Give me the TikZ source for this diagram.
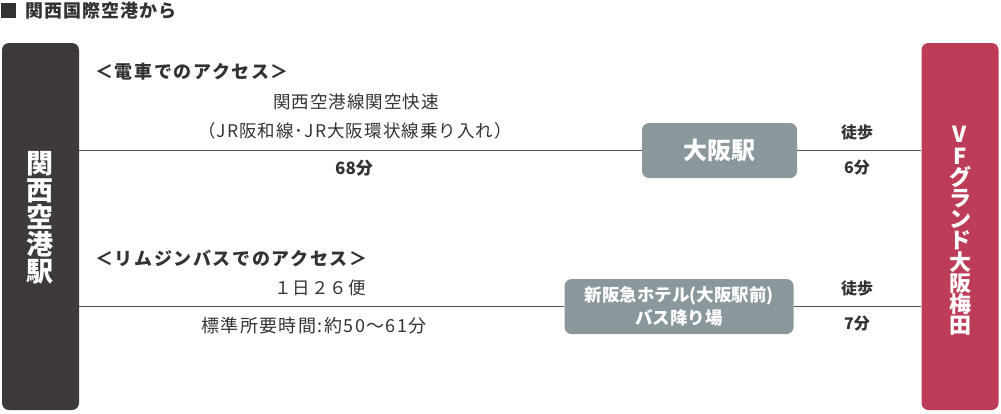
\documentclass[tikz,border=0pt]{standalone}
\usepackage{fontspec}
\setmainfont{Noto Sans CJK JP}
\usetikzlibrary{positioning}
\definecolor{textgray}{HTML}{333333}
\definecolor{stationdark}{HTML}{3E3A39}
\definecolor{hotelred}{HTML}{BD3C57}
\definecolor{stopgray}{HTML}{8A979C}

\begin{document}
\begin{tikzpicture}[
    x=1pt, y=-1pt,
    endbox/.style={
        rectangle, rounded corners=7pt, inner sep=0pt,
        minimum width=77pt, minimum height=367pt
    },
    vlabel/.style={
        text=white, align=center, inner sep=0pt
    },
    stopbox/.style={
        rectangle, rounded corners=7pt, fill=stopgray, text=white,
        inner sep=0pt, align=center
    },
    route/.style={draw=textgray!85, line width=1.5pt},
    heading/.style={
        anchor=west, inner sep=0pt, text=textgray,
        font=\fontsize{18}{20}\selectfont\bfseries\addfontfeature{LetterSpace=9}
    },
    note/.style={
        inner sep=0pt, text=textgray,
        font=\fontsize{17.5}{20}\selectfont\addfontfeature{LetterSpace=6}
    },
    walk/.style={
        inner sep=0pt, text=textgray, font=\fontsize{16}{20}\selectfont\bfseries
    },
]
\useasboundingbox (0,0) rectangle (1001,413);

%% ===================== TITLE =====================
\node[fill=textgray, minimum size=15pt, inner sep=0pt] (mark) at (8.5,10.5) {};
\node[anchor=west, inner sep=0pt, text=textgray,
      font=\fontsize{18}{20}\selectfont\bfseries\addfontfeature{LetterSpace=6}]
  (title) at (25,10.5) {関西国際空港から};

%% ===================== END POINTS =====================
\node[endbox, fill=stationdark] (kix) at (40.5,226.5) {};
\node[vlabel, font=\fontsize{27}{27}\selectfont\bfseries]
  (kixname) at (39.5,218) {関\\西\\空\\港\\駅};

\node[endbox, fill=hotelred] (hotel) at (960,226.5) {};
\node[vlabel, font=\fontsize{22}{21.2}\selectfont\bfseries]
  (hotelname) at (960,231) {V\\F\\グ\\ラ\\ン\\ド\\大\\阪\\梅\\田};

%% ===================== TRAIN ROUTE =====================
\node[stopbox, minimum width=155pt, minimum height=55pt,
      font=\fontsize{24}{28}\selectfont\bfseries]
  (osaka) at (719.5,150.5) {大阪駅};
\draw[route] (kix.east |- osaka) -- (osaka.west);
\draw[route] (osaka.east) -- (hotel.west |- osaka);

\node[heading] (trainhead) at (95,72) {＜電車でのアクセス＞};
\node[note] (trainname) at (356,102) {関西空港線関空快速};
\node[note] (trainvia) at (355,131) {（JR阪和線･JR大阪環状線乗り入れ）};
\node[walk, font=\fontsize{17}{20}\selectfont\bfseries] (traintime) at (354,168) {68分};

\node[walk] (walk1) at (857,132) {徒歩};
\node[walk] (walk1time) at (857,168) {6分};

%% ===================== BUS ROUTE =====================
\node[stopbox, minimum width=229pt, minimum height=55pt,
      font=\fontsize{17.5}{23}\selectfont\bfseries]
  (busstop) at (679,306.5) {新阪急ホテル(大阪駅前)\\バス降り場};
\draw[route] (kix.east |- busstop) -- (busstop.west);
\draw[route] (busstop.east) -- (hotel.west |- busstop);

\node[heading] (bushead) at (95,258) {＜リムジンバスでのアクセス＞};
\node[note] (busfreq) at (320,288) {１日２６便};
\node[note, font=\fontsize{18}{20}\selectfont\addfontfeature{LetterSpace=8}]
  (bustime) at (314,326) {標準所要時間:約50～61分};

\node[walk] (walk2) at (857,288) {徒歩};
\node[walk] (walk2time) at (857,324) {7分};

\end{tikzpicture}
\end{document}
